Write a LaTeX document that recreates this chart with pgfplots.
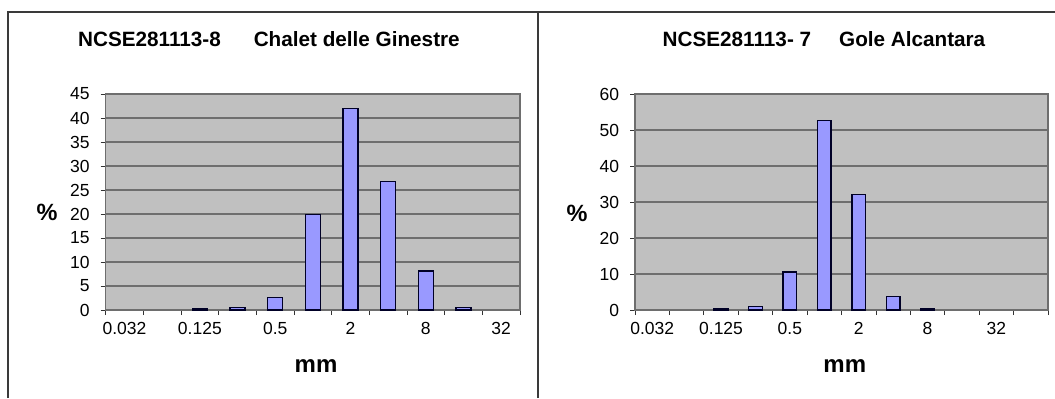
\documentclass[border=0pt]{standalone}
\usepackage{fontspec}
\setmainfont{Liberation Sans}
\usepackage{pgfplots}
\pgfplotsset{compat=1.18}
\definecolor{plotgray}{HTML}{C0C0C0}
\definecolor{gridgray}{HTML}{6E6E6E}
\definecolor{barfill}{HTML}{9999FF}
\definecolor{framegray}{HTML}{3A3A3A}
\pgfplotsset{
  gsplot/.style={
    scale only axis,
    height=216bp,
    axis background/.style={fill=plotgray},
    axis line style={draw=gridgray, line width=1.2bp},
    ymin=0,
    xmin=-0.5,
    tick align=outside,
    xtick pos=bottom,
    ytick pos=left,
    major tick length=5bp,
    tick style={draw=black!80, line width=0.8bp},
    ymajorgrids=true,
    grid style={draw=gridgray, line width=1.2bp},
    xticklabels={},
    extra x ticks={0,2,4,6,8,10},
    extra x tick labels={0.032,0.125,0.5,2,8,32},
    extra x tick style={major tick length=0pt, tick style={draw=none}, grid=none},
    tick label style={font=\fontsize{17.5bp}{19bp}\selectfont},
    xticklabel style={yshift=-8.5bp},
    yticklabel style={xshift=-7.5bp},
    /pgf/number format/assume math mode=true,
    xlabel={mm},
    ylabel={\%},
    xlabel style={font=\fontsize{24bp}{27bp}\selectfont\bfseries, anchor=base},
    ylabel style={font=\fontsize{23.5bp}{26bp}\selectfont\bfseries, rotate=-90, anchor=center},
    title style={font=\fontsize{20.7bp}{24bp}\selectfont\bfseries, anchor=base},
    clip=false,
  },
  barstyle/.style={ybar, bar width=0.4, fill=barfill, draw=black!85!blue, line width=1.4bp},
}
\begin{document}
\begin{tikzpicture}[x=1bp,y=1bp]
\path[use as bounding box] (0,0) rectangle (1055,398);
\draw[framegray, line width=1.3bp] (8,0) -- (8,386) -- (1055,386);
\draw[framegray, line width=1.3bp] (538,0) -- (538,386);

\begin{axis}[gsplot,
  at={(105.7bp,88bp)}, anchor=south west,
  width=414.3bp,
  xmax=10.5, ymax=45,
  xtick={-0.5,0.5,...,10.5},
  ytick={0,5,...,45},
  xlabel style={at={(axis description cs:0.5076,-0.29)}},
  ylabel style={at={(axis description cs:-0.1417,0.451)}},
  title style={at={(axis description cs:0.394,1.19)}},
  title={NCSE281113-8\hspace{33bp}Chalet delle Ginestre},
]
\addplot[barstyle] coordinates {(2,0.25) (3,0.5) (4,2.55) (5,19.85) (6,42.0) (7,26.8) (8,8.1) (9,0.5)};
\end{axis}

\begin{axis}[gsplot,
  at={(635bp,88bp)}, anchor=south west,
  width=413bp,
  xmax=11.5, ymax=60,
  xtick={-0.5,0.5,...,11.5},
  ytick={0,10,...,60},
  xlabel style={at={(axis description cs:0.508,-0.29)}},
  ylabel style={at={(axis description cs:-0.140,0.449)}},
  title style={at={(axis description cs:0.4576,1.19)}},
  title={NCSE281113- 7\hspace{28bp}Gole Alcantara},
]
\addplot[barstyle] coordinates {(2,0.3) (3,0.9) (4,10.6) (5,52.6) (6,32.1) (7,3.8) (8,0.4)};
\end{axis}
\end{tikzpicture}
\end{document}
